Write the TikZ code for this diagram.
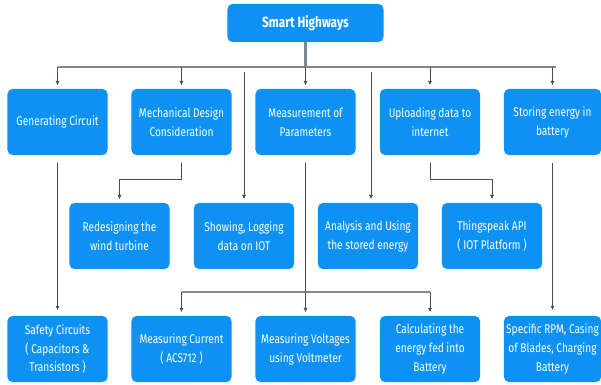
\documentclass[tikz,border=0pt]{standalone}
\usepackage{fontspec}
\setmainfont{Fira Sans}[FakeStretch=0.8]
\usetikzlibrary{arrows.meta}
\definecolor{boxblue}{HTML}{0D92F4}
\definecolor{busgray}{HTML}{80878D}
\definecolor{linegray}{HTML}{454D55}
\tikzset{box/.style={rectangle,rounded corners=3.5pt,fill=boxblue,text=white,
    minimum width=2.5cm,minimum height=1.65cm,align=center,inner sep=1pt,
    font=\fontsize{9}{13.5}\selectfont},
  bus/.style={line width=1.5pt,busgray},
  link/.style={line width=0.7pt,linegray},
  arr/.style={link,-{Latex[length=3pt,width=3pt]},shorten >=2.5pt},
  stem/.style={shorten <=5.5pt}}

\begin{document}
\begin{tikzpicture}[x=0.025cm,y=-0.025cm]
\useasboundingbox (0,0) rectangle (601,385);
% root
\node[box,minimum width=3.9cm,minimum height=0.95cm,
  font=\fontsize{10.5}{12}\selectfont\bfseries] (top) at (305.5,23) {Smart Highways};
% first row
\node[box] (gen)  at (57.5,122)  {Generating Circuit};
\node[box] (mech) at (181.5,122) {Mechanical Design\\Consideration};
\node[box] (meas) at (305.5,122) {Measurement of\\Parameters};
\node[box] (upl)  at (430,122)   {Uploading data to\\internet};
\node[box,minimum width=2.425cm] (stor) at (552.5,122) {Storing energy in\\battery};
% second row
\node[box] (red)   at (119.5,236) {Redesigning the\\wind turbine};
\node[box] (show)  at (244,236)   {Showing, Logging\\data on IOT};
\node[box] (ana)   at (368,236)   {Analysis and Using\\the stored energy};
\node[box] (thing) at (492,236)   {Thingspeak API\\( IOT Platform )};
% third row
\node[box] (safe) at (57.5,349)  {Safety Circuits\\( Capacitors \&\\Transistors )};
\node[box] (cur)  at (181.5,349) {Measuring Current\\( ACS712 )};
\node[box] (volt) at (305.5,349) {Measuring Voltages\\using Voltmeter};
\node[box] (calc) at (430,349)   {Calculating the\\energy fed into\\Battery};
\node[box,minimum width=2.425cm] (rpm) at (552.5,349) {Specific RPM, Casing\\of Blades, Charging\\Battery};

% top bus
\coordinate (busL) at (57.5,67);
\coordinate (busR) at (556,67);
\draw[bus] (top.south) -- (top.south |- busL);
\draw[bus] (busL) -- (busR);
\foreach \n in {gen,mech,meas,upl,stor}
  \draw[arr] (\n.north |- busL) -- (\n.north);

% long drops past the first row
\coordinate (tapA) at (244,72);
\coordinate (tapB) at (371,72);
\draw[arr] (tapA) -- (show.north);
\draw[arr] (tapB) -- (tapB |- ana.north);

% first row to second row
\coordinate (mechJ) at (181.5,179);
\coordinate (uplJ) at (430,179);
\draw[arr,stem] (mech.south) -- (mechJ) -| (red.north);
\draw[arr,stem] (upl.south) -- (uplJ) -| (thing.north);

% straight down to third row
\draw[arr,stem,shorten >=4pt] (gen.south) -- (safe.north);
\draw[arr,stem,shorten >=4pt] (stor.south) -- (rpm.north);

% measurement bus
\coordinate (mbusL) at (181.5,292);
\coordinate (mbusR) at (430,292);
\draw[link,stem] (meas.south) -- (meas.south |- mbusL);
\draw[bus,line width=1.2pt] (mbusL) -- (mbusR);
\foreach \n in {cur,volt,calc}
  \draw[arr] (\n.north |- mbusL) -- (\n.north);
\end{tikzpicture}
\end{document}
